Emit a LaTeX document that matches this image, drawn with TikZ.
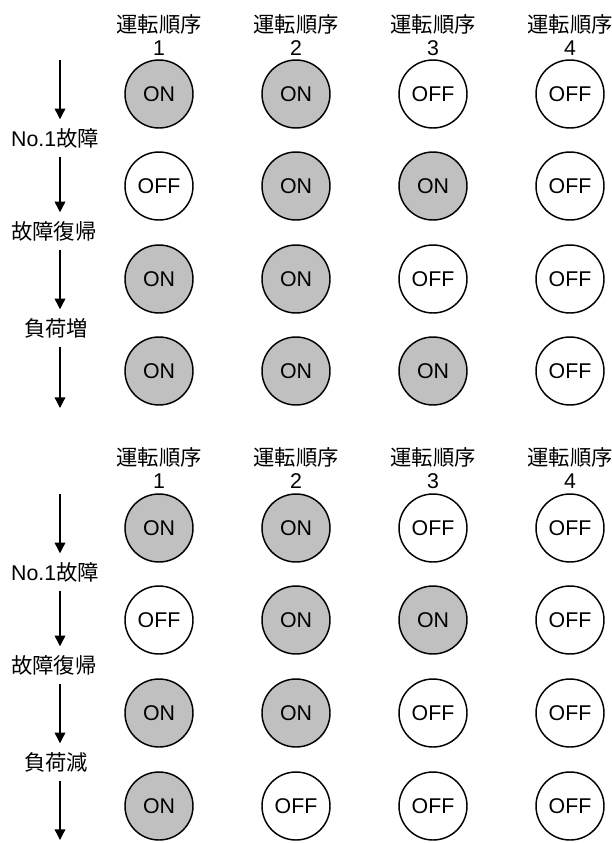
\documentclass[tikz,border=0pt]{standalone}
\usepackage{fontspec}
\setmainfont{Liberation Sans}
\newfontfamily\jp{Noto Sans CJK JP}
\usetikzlibrary{arrows.meta}

\definecolor{swgray}{RGB}{192,192,192}
\tikzset{every picture/.style={line width=1.1pt}}
\tikzset{
  sw/.style={circle, draw, minimum size=51pt, inner sep=0pt, font=\fontsize{16}{18}\selectfont},
  swon/.style={sw, fill=swgray},
  swoff/.style={sw, fill=white},
  head/.style={align=center, inner sep=0pt, font=\fontsize{16}{16.5}\selectfont},
  evt/.style={inner sep=0pt, minimum height=27pt, font=\fontsize{16}{18}\selectfont},
  flow/.style={line width=1pt, -{Triangle[length=8pt,width=8pt]}}
}

\begin{document}
\begin{tikzpicture}[x=0.75pt,y=0.75pt,yscale=-1,xscale=1]
\useasboundingbox (0,0) rectangle (611,843);

%%% upper chart (load up)
% Text Node
\draw (159,35) node [head] (ht1) {{\jp 運転順序}\\[1pt]1};
\draw (296,35) node [head] (ht2) {{\jp 運転順序}\\[1pt]2};
\draw (433,35) node [head] (ht3) {{\jp 運転順序}\\[1pt]3};
\draw (570,35) node [head] (ht4) {{\jp 運転順序}\\[1pt]4};
%Shape: Circle
\draw (159,94) node [swon] (t11) {ON};
\draw (296,94) node [swon] (t12) {ON};
\draw (433,94) node [swoff] (t13) {OFF};
\draw (570,94) node [swoff] (t14) {OFF};
\draw (159,186) node [swoff] (t21) {OFF};
\draw (296,186) node [swon] (t22) {ON};
\draw (433,186) node [swon] (t23) {ON};
\draw (570,186) node [swoff] (t24) {OFF};
\draw (159,279) node [swon] (t31) {ON};
\draw (296,279) node [swon] (t32) {ON};
\draw (433,279) node [swoff] (t33) {OFF};
\draw (570,279) node [swoff] (t34) {OFF};
\draw (159,371) node [swon] (t41) {ON};
\draw (296,371) node [swon] (t42) {ON};
\draw (433,371) node [swon] (t43) {ON};
\draw (570,371) node [swoff] (t44) {OFF};
% Text Node
\draw (55,138) node [evt] (lt1) {No.1{\jp 故障}};
\draw (54,231) node [evt] (lt2) {{\jp 故障復帰}};
\draw (56,328) node [evt] (lt3) {{\jp 負荷増}};
%Straight Lines
\coordinate (st) at (60,60);
\coordinate (et) at (60,408);
\draw [flow] (st) -- (st |- lt1.north);
\draw [flow] (st |- lt1.south) -- (st |- lt2.north);
\draw [flow] (st |- lt2.south) -- (st |- lt3.north);
\draw [flow] (st |- lt3.south) -- (et);

%%% lower chart (load down)
% Text Node
\draw (159,468) node [head] (hb1) {{\jp 運転順序}\\[1pt]1};
\draw (296,468) node [head] (hb2) {{\jp 運転順序}\\[1pt]2};
\draw (433,468) node [head] (hb3) {{\jp 運転順序}\\[1pt]3};
\draw (570,468) node [head] (hb4) {{\jp 運転順序}\\[1pt]4};
%Shape: Circle
\draw (159,528) node [swon] (b11) {ON};
\draw (296,528) node [swon] (b12) {ON};
\draw (433,528) node [swoff] (b13) {OFF};
\draw (570,528) node [swoff] (b14) {OFF};
\draw (159,620) node [swoff] (b21) {OFF};
\draw (296,620) node [swon] (b22) {ON};
\draw (433,620) node [swon] (b23) {ON};
\draw (570,620) node [swoff] (b24) {OFF};
\draw (159,713) node [swon] (b31) {ON};
\draw (296,713) node [swon] (b32) {ON};
\draw (433,713) node [swoff] (b33) {OFF};
\draw (570,713) node [swoff] (b34) {OFF};
\draw (159,806) node [swon] (b41) {ON};
\draw (296,806) node [swoff] (b42) {OFF};
\draw (433,806) node [swoff] (b43) {OFF};
\draw (570,806) node [swoff] (b44) {OFF};
% Text Node
\draw (55,572) node [evt] (lb1) {No.1{\jp 故障}};
\draw (54,665) node [evt] (lb2) {{\jp 故障復帰}};
\draw (56,762) node [evt] (lb3) {{\jp 負荷減}};
%Straight Lines
\coordinate (sb) at (60,494);
\coordinate (eb) at (60,840);
\draw [flow] (sb) -- (sb |- lb1.north);
\draw [flow] (sb |- lb1.south) -- (sb |- lb2.north);
\draw [flow] (sb |- lb2.south) -- (sb |- lb3.north);
\draw [flow] (sb |- lb3.south) -- (eb);

\end{tikzpicture}
\end{document}
